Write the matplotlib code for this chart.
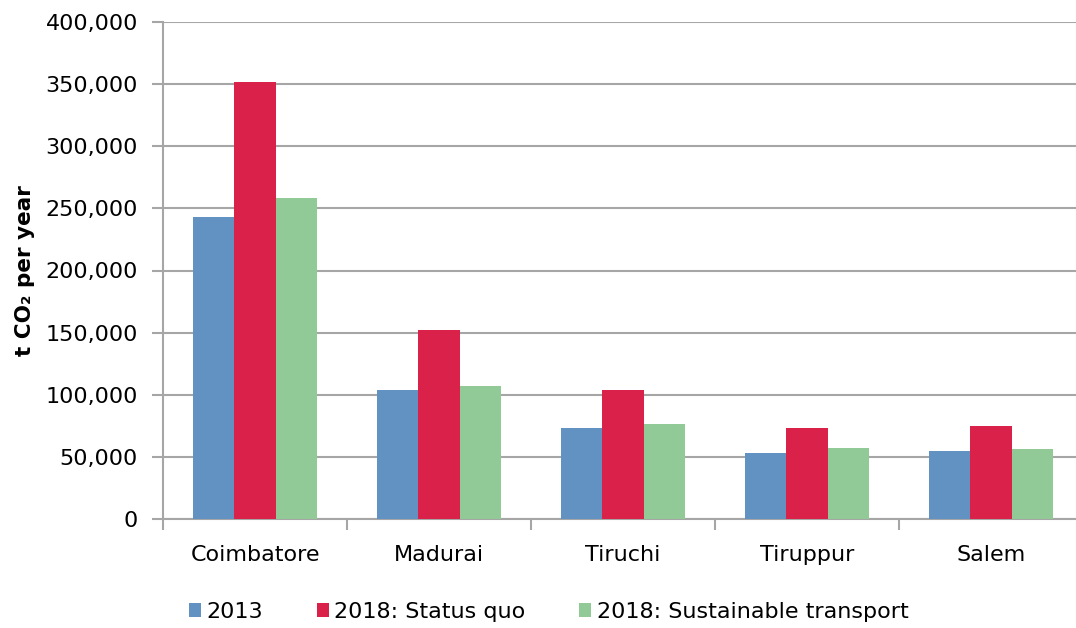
import matplotlib
matplotlib.use("Agg")
import matplotlib.pyplot as plt
import numpy as np
from matplotlib.ticker import FuncFormatter

# emissions per city (t CO2 / year)
cities = ["Coimbatore", "Madurai", "Tiruchi", "Tiruppur", "Salem"]
y2013 = [243000, 104000, 73500, 53000, 54500]
y2018_sq = [352000, 152000, 104000, 73000, 74500]
y2018_st = [258000, 107200, 76500, 57500, 56000]
series_names = ["2013", "2018: Status quo", "2018: Sustainable transport"]
colors = ["#6192C2", "#D92149", "#91CA96"]

plt.rcParams['font.family'] = ['DejaVu Sans']

fig = plt.figure(figsize=(10.76, 6.28), dpi=100)
ax = fig.add_axes([163 / 1076, 1 - 519 / 628, 920 / 1076, 497 / 628])

x = np.arange(len(cities))
w = 0.223
for i, (vals, name) in enumerate(zip([y2013, y2018_sq, y2018_st], series_names)):
    ax.bar(x + (i - 1) * w, vals, width=w, color=colors[i], label=name, zorder=3)

ax.set_xlim(-0.5, len(cities) - 0.5)
ax.set_ylim(0, 400000)
ax.set_yticks(np.arange(0, 400001, 50000))
ax.yaxis.set_major_formatter(FuncFormatter(lambda v, p: f"{int(v):,}"))
ax.grid(axis='y', color='#A6A6A6', linewidth=1.5, zorder=0)

# category boundaries as major ticks, names on minor ticks
ax.set_xticks(np.arange(-0.5, len(cities) + 0.5, 1))
ax.set_xticklabels([])
ax.set_xticks(x, minor=True)
ax.set_xticklabels(cities, minor=True)
ax.tick_params(axis='x', which='major', length=8, width=1.5, color='#A6A6A6')
ax.tick_params(axis='x', which='minor', length=0, pad=19, labelsize=16)
ax.tick_params(axis='y', length=8, width=1.5, color='#A6A6A6', labelsize=16, pad=10)

for s in ['top', 'right']:
    ax.spines[s].set_visible(False)
for s in ['left', 'bottom']:
    ax.spines[s].set_color('#A6A6A6')
    ax.spines[s].set_linewidth(1.5)

ax.set_ylabel("t CO₂ per year", fontsize=15.5, fontweight='bold', labelpad=8)

fig.legend(loc='center', bbox_to_anchor=(0.51, 0.026), ncol=3, frameon=False,
           fontsize=16, handlelength=0.55, handleheight=0.55, handletextpad=0.25,
           columnspacing=2.4)

fig.savefig("out.png", dpi=100)
